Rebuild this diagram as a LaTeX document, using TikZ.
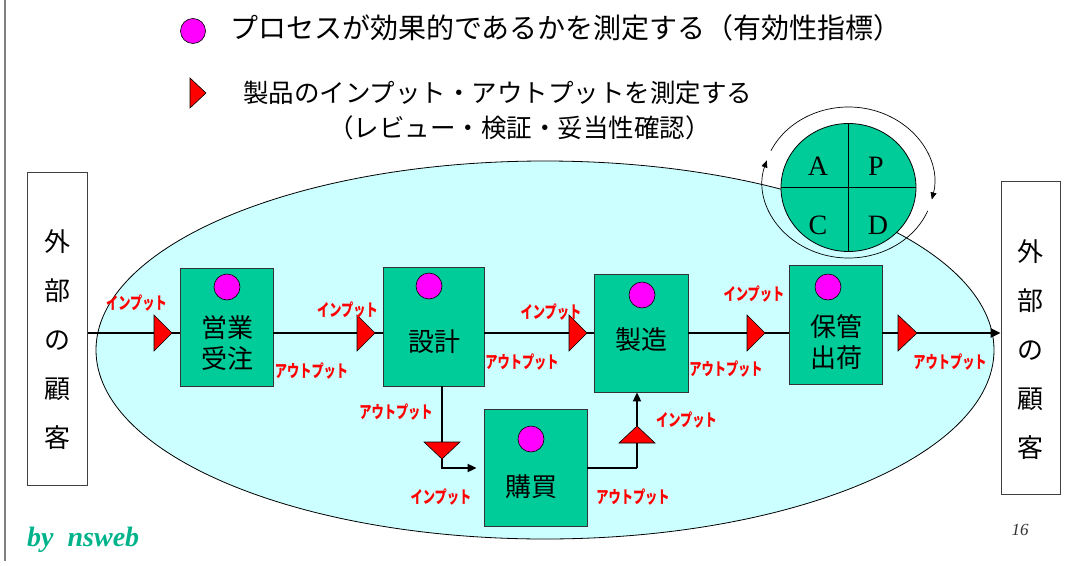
\documentclass[tikz,border=0pt]{standalone}
\usepackage{fontspec}
\usepackage{graphicx}
\setmainfont{Noto Sans CJK JP}
\newfontfamily\lserif{Liberation Serif}
\usetikzlibrary{arrows.meta,calc,shapes.geometric}
\definecolor{pgreen}{HTML}{00CC99}
\definecolor{pcyan}{HTML}{CCFFFF}
\definecolor{pmag}{HTML}{FF00FF}
\definecolor{pred}{HTML}{FF0000}
\definecolor{bygreen}{HTML}{00B38A}
\newcommand{\inlab}{\scalebox{0.72}[1]{インプット}}
\newcommand{\outlab}{\scalebox{0.72}[1]{アウトプット}}
\begin{document}
\begin{tikzpicture}[x=1pt,y=1pt,
  pbox/.style={draw=black!80, fill=pgreen, line width=0.8pt, inner sep=0pt},
  dot/.style={circle, draw=black, fill=pmag, minimum size=26pt, inner sep=0pt, line width=0.6pt},
  ptxt/.style={font=\fontsize{26}{31}\selectfont, inner sep=0pt, align=center},
  rlab/.style={text=pred, font=\fontsize{17}{17}\selectfont\bfseries, inner sep=0pt},
  flow/.style={line width=2.4pt},
  thinflow/.style={line width=1.8pt},
  tri/.style={fill=pred, draw=black, line width=0.6pt},
  extbox/.style={draw=black!75, fill=white, line width=1pt, inner sep=0pt},
  pdcalet/.style={font=\lserif\fontsize{28}{28}\selectfont, inner sep=0pt},
  head/.style={anchor=west, inner sep=0pt}]
\useasboundingbox (0,0) rectangle (1071,-565);
\draw[gray, line width=1.2pt] (5,0) -- (5,-561);

% big ellipse
\draw[fill=pcyan, line width=0.8pt] (545,-350) ellipse [x radius=449, y radius=189];

% PDCA ring
\draw[line width=0.7pt, -{Triangle[length=7pt,width=6pt]}] ($(848.5,-182.5)+(155:85.5 and 75.5)$) arc[start angle=155, end angle=-13, x radius=85.5, y radius=75.5];
\draw[line width=0.7pt, -{Triangle[length=7pt,width=6pt]}] ($(848.5,-182.5)+(-22:85.5 and 75.5)$) arc[start angle=-22, end angle=-197, x radius=85.5, y radius=75.5];
\node[ellipse, draw=black, fill=pgreen, line width=0.8pt, minimum width=135pt, minimum height=128pt, inner sep=0pt] (pdca) at (848.5,-187.5) {};
\draw[line width=0.8pt] (pdca.north) -- (pdca.south);
\draw[line width=0.8pt] (pdca.west) -- (pdca.east);
\node[pdcalet] (la) at (818,-166) {A};
\node[pdcalet] (lp) at (876,-166) {P};
\node[pdcalet] (lc) at (818,-225) {C};
\node[pdcalet] (ld) at (878,-225) {D};

% external boxes
\node[extbox, minimum width=60pt, minimum height=313pt] (lext) at (57,-328.5) {};
\node[extbox, minimum width=59pt, minimum height=313pt] (rext) at (1030.5,-337.5) {};
\node[ptxt, font=\fontsize{26}{49}\selectfont] (ltxt) at (57,-340) {外\\部\\の\\顧\\客};
\node[ptxt, font=\fontsize{26}{49}\selectfont] (rtxt) at (1030.5,-350) {外\\部\\の\\顧\\客};

% process boxes
\node[pbox, minimum width=93pt, minimum height=118pt] (eigyo) at (226.5,-327) {};
\node[pbox, minimum width=101pt, minimum height=119pt] (sekkei) at (433.5,-326.5) {};
\node[pbox, minimum width=94pt, minimum height=118pt] (seizo) at (641,-333) {};
\node[pbox, minimum width=103pt, minimum height=117pt] (kobai) at (535.5,-467.5) {};
\node[pbox, minimum width=93pt, minimum height=119pt] (hokan) at (835.5,-324.5) {};

\node[dot] (c1) at (227,-287) {};
\node[dot] (c2) at (429,-286) {};
\node[dot] (c3) at (642,-295) {};
\node[dot] (c4) at (531,-439) {};
\node[dot] (c5) at (828,-287) {};

\node[ptxt] (t1) at (227,-343) {営業\\受注};
\node[ptxt] (t2) at (434,-342) {設計};
\node[ptxt] (t3) at (641,-340) {製造};
\node[ptxt] (t4) at (531,-487) {購買};
\node[ptxt] (t5) at (836,-342) {保管\\出荷};

% flow lines
\coordinate (mainy) at (0,-333);
\draw[flow] (lext.east |- mainy) -- (eigyo.west |- mainy);
\draw[flow] (eigyo.east |- mainy) -- (sekkei.west |- mainy);
\draw[flow] (sekkei.east |- mainy) -- (seizo.west |- mainy);
\draw[flow] (seizo.east |- mainy) -- (hokan.west |- mainy);
\draw[flow, -{Triangle[length=10pt,width=9pt]}] (hokan.east |- mainy) -- (rext.west |- mainy);

\coordinate (d1) at (442,-468);
\coordinate (d0) at (442,-450);
\draw[flow] (sekkei.south -| d1) -- (d0);
\draw[thinflow, -{Triangle[length=9pt,width=8pt]}, shorten >=7pt] (d0) -- (d1) -- (kobai.west |- d1);
\coordinate (u1) at (637,-468);
\draw[flow] (kobai.east |- u1) -- (u1);
\draw[thinflow, -{Triangle[length=9pt,width=8pt]}] (u1) -- (seizo.south -| u1);

% red triangles
\filldraw[tri] (154,-315) -- (154,-351) -- (172,-333) -- cycle;
\filldraw[tri] (357,-315) -- (357,-351) -- (375,-333) -- cycle;
\filldraw[tri] (569,-315) -- (569,-351) -- (587,-333) -- cycle;
\filldraw[tri] (747,-315) -- (747,-351) -- (765,-333) -- cycle;
\filldraw[tri] (898,-315) -- (898,-351) -- (917,-333) -- cycle;
\filldraw[tri] (424,-442) -- (460,-442) -- (442,-459) -- cycle;
\filldraw[tri] (619,-443) -- (655,-443) -- (637,-426) -- cycle;

% red labels
\node[rlab] (i1) at (136.5,-303) {\inlab};
\node[rlab] (o1) at (311.5,-371) {\outlab};
\node[rlab] (i2) at (347.5,-310) {\inlab};
\node[rlab] (o2) at (522,-362) {\outlab};
\node[rlab] (i3) at (551,-312) {\inlab};
\node[rlab] (o3) at (726,-369) {\outlab};
\node[rlab] (i4) at (754,-294) {\inlab};
\node[rlab] (o4) at (950,-362) {\outlab};
\node[rlab] (o5) at (396,-412) {\outlab};
\node[rlab] (i5) at (441,-497) {\inlab};
\node[rlab] (o6) at (633,-497) {\outlab};
\node[rlab] (i6) at (686.5,-420) {\inlab};

% legend / header
\node[circle, draw=black, fill=pmag, minimum size=25pt, inner sep=0pt, line width=0.6pt] (legc) at (193,-31) {};
\filldraw[tri] (190,-78) -- (190,-108) -- (206,-93) -- cycle;
\node[head, font=\fontsize{28}{28}\selectfont] (h1) at (230,-28) {プロセスが効果的であるかを測定する（有効性指標）};
\node[head, font=\fontsize{25.5}{25.5}\selectfont] (h2) at (243,-93) {製品のインプット・アウトプットを測定する};
\node[head, font=\fontsize{25.5}{25.5}\selectfont] (h3) at (328,-128) {（レビュー・検証・妥当性確認）};

\node[anchor=west, inner sep=0pt, text=bygreen, font=\lserif\bfseries\itshape\fontsize{28}{28}\selectfont] (by) at (27,-540) {by\ \ nsweb};
\node[inner sep=0pt, text=black!80, font=\lserif\itshape\fontsize{17}{17}\selectfont] (pg) at (1020,-530) {16};
\end{tikzpicture}
\end{document}
